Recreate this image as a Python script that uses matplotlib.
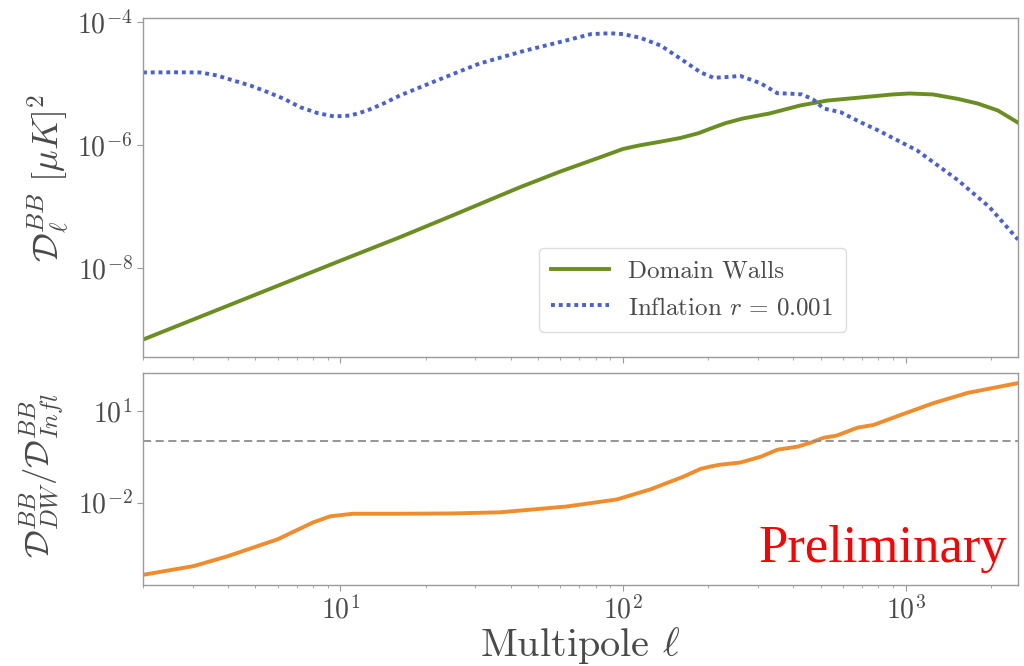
import matplotlib
matplotlib.use("Agg")
import matplotlib.pyplot as plt

# ---------------- data ----------------
ell_dw = [2, 5, 10, 16.3, 25, 43, 60, 83, 100, 114, 136, 160, 185, 204, 230,
          266, 330, 424, 528, 692, 900, 1032, 1250, 1528, 1800, 2120, 2500]
dw = [6.9e-10, 3.7e-9, 1.32e-8, 3.2e-8, 7.2e-8, 2.04e-7, 3.7e-7, 6.3e-7,
      8.6e-7, 9.8e-7, 1.13e-6, 1.3e-6, 1.55e-6, 1.84e-6, 2.25e-6,
      2.69e-6, 3.24e-6, 4.37e-6, 5.25e-6, 5.89e-6, 6.6e-6, 6.84e-6,
      6.6e-6, 5.6e-6, 4.7e-6, 3.63e-6, 2.3e-6]

ell_inf = [2, 2.6, 3.19, 3.66, 4.18, 4.8, 5.52, 6.31, 7.2, 8.27, 9.47, 10.85,
           12.4, 14.2, 16.3, 22, 31, 45, 60, 77, 90, 100, 115, 136, 160, 188,
           209, 230, 260, 307, 352, 390, 430, 470, 513, 589, 692, 796, 1100,
           1528, 1980, 2500]
infl = [1.5e-5, 1.51e-5, 1.5e-5, 1.34e-5, 1.11e-5, 9.2e-6, 7.2e-6, 5.6e-6,
        4.1e-6, 3.3e-6, 2.9e-6, 3.0e-6, 3.6e-6, 4.7e-6, 6.4e-6, 1.12e-5,
        2.09e-5, 3.4e-5, 4.7e-5, 6.3e-5, 6.5e-5, 6.3e-5, 5.5e-5, 4.1e-5,
        2.5e-5, 1.51e-5, 1.23e-5, 1.26e-5, 1.32e-5, 1.0e-5, 6.9e-6, 6.8e-6,
        6.6e-6, 5.5e-6, 3.9e-6, 3.4e-6, 2.34e-6, 1.74e-6, 8.1e-7, 2.7e-7,
        9.8e-8, 2.9e-8]

ell_ratio = [2, 3.02, 3.98, 6.0, 8.0, 9.2, 11.1, 16.3, 25, 36.8, 63, 95, 125,
             164, 188, 204, 221, 260, 307, 352, 415, 461, 513, 570, 675, 770,
             962, 1260, 1660, 2500]
ratio = [4.3e-5, 8.3e-5, 1.74e-4, 6.3e-4, 2.24e-3, 3.55e-3, 4.3e-3, 4.3e-3,
         4.4e-3, 4.8e-3, 7.4e-3, 1.26e-2, 2.7e-2, 7.1e-2, 0.126, 0.151,
         0.174, 0.204, 0.316, 0.537, 0.676, 0.912, 1.32, 1.55, 2.82, 3.47,
         7.4, 18.2, 38.9, 81.3]

ref_level = 1.0

labels = [r"Domain Walls", r"Inflation $r\,=\,0.001$"]

# ---------------- style ----------------
plt.rcParams["font.family"] = "serif"
plt.rcParams["font.serif"] = ["cmr10"]
plt.rcParams["mathtext.fontset"] = "cm"
plt.rcParams["axes.formatter.use_mathtext"] = True

spine_c = "#9a9a9a"
text_c = "#4a4a4a"

fig = plt.figure(figsize=(10.24, 6.66), dpi=100)
ax1 = fig.add_axes([143/1024, 1-357/666, 875/1024, 339/666])
ax2 = fig.add_axes([143/1024, 1-585/666, 875/1024, 212/666])

ax1.plot(ell_dw, dw, color="#6b8e23", lw=2.8, label=labels[0])
ax1.plot(ell_inf, infl, color="#4a5fd6", lw=2.8, ls=(0, (1, 1)), label=labels[1])
ax2.plot(ell_ratio, ratio, color="#ef8c2e", lw=2.8)
ax2.axhline(ref_level, color="#8c8c8c", lw=1.3, ls=(0, (4.5, 2.5)))

for ax in (ax1, ax2):
    ax.set_xscale("log")
    ax.set_yscale("log")
    ax.set_xlim(2, 2500)
    for s in ax.spines.values():
        s.set_color(spine_c)
        s.set_linewidth(1.0)
    ax.tick_params(axis="both", which="major", direction="out", length=4,
                   color=spine_c, labelcolor=text_c, labelsize=20)
    ax.tick_params(axis="both", which="minor", direction="out", length=2.5,
                   color=spine_c)
    ax.tick_params(axis="y", which="minor", left=False)

ax1.set_ylim(3.6e-10, 1.15e-4)
ax1.set_yticks([1e-8, 1e-6, 1e-4])
ax1.tick_params(axis="x", which="both", labelbottom=False)

ax2.set_ylim(2e-5, 174)
ax2.set_yticks([1e-2, 1e1])

leg = ax1.legend(loc="lower left", bbox_to_anchor=(0.452, 0.075),
                 borderaxespad=0, fontsize=18, handlelength=2.3,
                 frameon=True, fancybox=True, framealpha=1.0,
                 edgecolor="#dddddd", labelspacing=0.55, borderpad=0.5)
for t in leg.get_texts():
    t.set_color(text_c)

fig.text(48/1024, 1-178/666, r"$\mathcal{D}_\ell^{BB}\ [\mu K]^2$", rotation=90,
         ha="center", va="center", fontsize=26, color=text_c)
fig.text(42/1024, 1-476/666, r"$\mathcal{D}^{BB}_{DW}/\mathcal{D}^{BB}_{Infl}$",
         rotation=90, ha="center", va="center", fontsize=25, color=text_c)
fig.text(580/1024, 1-645/666, r"Multipole $\ell$", ha="center", va="center",
         fontsize=29, color=text_c)
fig.text(1007/1024, 1-562/666, "Preliminary", ha="right", va="baseline",
         fontsize=38, color="#ff0000", family="Liberation Serif")

fig.savefig("out.png", dpi=100)
